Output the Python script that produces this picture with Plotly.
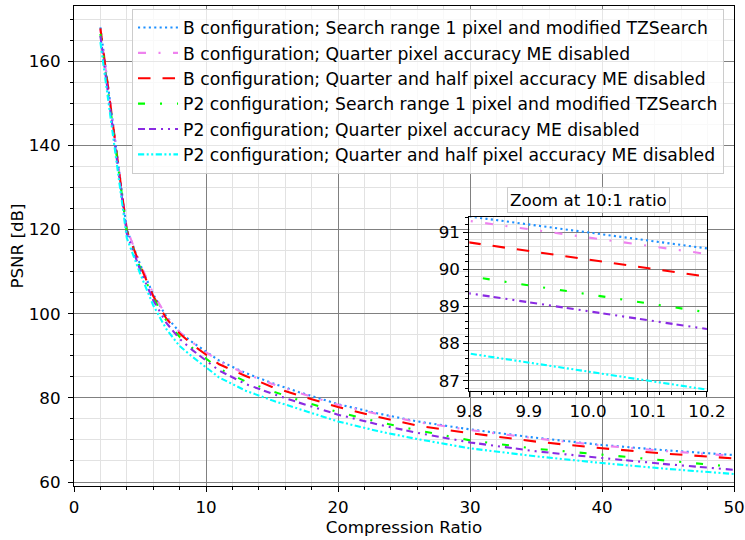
import plotly.graph_objects as go

# Compression ratios (x) and PSNR values [dB]
cr = [2, 4, 5, 6, 7, 8, 9, 11, 13, 15, 17, 20, 23, 26, 30, 35, 40, 45, 50]
b_search = [168.0, 120.0, 111.8, 104.6, 99.3, 95.6, 93.14, 88.84, 85.9, 83.5, 81.4, 78.5, 76.3, 74.4, 72.5, 70.5, 68.8, 67.5, 66.4]
b_quarter = [167.5, 120.2, 112.0, 104.8, 99.4, 95.6, 93.08, 88.63, 85.7, 83.3, 81.2, 78.35, 76.15, 74.25, 72.35, 70.35, 68.65, 67.3, 66.2]
b_qh = [167.8, 119.8, 111.5, 104.2, 98.8, 95.3, 92.56, 87.96, 85.2, 82.6, 80.6, 77.8, 75.5, 73.4, 71.6, 69.6, 68.0, 66.7, 65.6]
p2_search = [166.5, 119.5, 111.0, 103.8, 98.3, 94.5, 91.75, 86.9, 83.9, 81.6, 79.5, 76.6, 74.3, 72.3, 69.9, 67.9, 66.5, 65.0, 63.6]
p2_quarter = [166.0, 119.0, 110.5, 103.2, 97.8, 94.0, 91.27, 86.47, 83.3, 81.0, 78.9, 76.0, 73.7, 71.7, 69.4, 67.3, 65.7, 64.2, 62.9]
p2_qh = [164.5, 118.0, 109.6, 102.0, 96.3, 92.3, 89.67, 84.82, 81.7, 79.4, 77.4, 74.4, 72.1, 70.2, 68.0, 66.1, 64.5, 63.1, 61.9]

names = [
    "B configuration; Search range 1 pixel and modified TZSearch",
    "B configuration; Quarter pixel accuracy ME disabled",
    "B configuration; Quarter and half pixel accuracy ME disabled",
    "P2 configuration; Search range 1 pixel and modified TZSearch",
    "P2 configuration; Quarter pixel accuracy ME disabled",
    "P2 configuration; Quarter and half pixel accuracy ME disabled",
]
series = [b_search, b_quarter, b_qh, p2_search, p2_quarter, p2_qh]
colors = ["#1E90FF", "#EE82EE", "#FF0000", "#00FF00", "#8A2BE2", "#00FFFF"]
dashes = [
    "2.1px,3.3px",
    "8px,12.5px,2px,12.5px",
    "12.5px,12px",
    "7px,15px,2px,15px",
    "7px,4px,7px,5px,2px,5px,2px,5px",
    "6.2px,2.5px,2px,2.5px,2px,2.5px",
]

FONT = "DejaVu Sans"
FS = 16.7
MAJ = "#808080"
MIN = "#e2e2e2"

fig = go.Figure()
for nm, ys, c, d in zip(names, series, colors, dashes):
    fig.add_trace(go.Scatter(x=cr, y=ys, mode="lines", name=nm,
                             line=dict(color=c, width=2.1, dash=d),
                             xaxis="x", yaxis="y"))
for nm, ys, c, d in zip(names, series, colors, dashes):
    fig.add_trace(go.Scatter(x=cr, y=ys, mode="lines", name=nm, showlegend=False,
                             line=dict(color=c, width=2.1, dash=d),
                             xaxis="x2", yaxis="y2"))

axis_common = dict(showline=True, linecolor="black", linewidth=1.2, mirror=True,
                   ticks="outside", ticklen=5, tickwidth=1.1, tickcolor="black",
                   showgrid=True, gridcolor=MAJ, gridwidth=1.3, zeroline=False,
                   automargin=False,
                   tickfont=dict(family=FONT, size=FS, color="black"))

fig.update_layout(
    width=745, height=540,
    margin=dict(l=74, r=11, t=6, b=54, autoexpand=False),
    paper_bgcolor="white", plot_bgcolor="white",
    font=dict(family=FONT, size=FS, color="black"),
    xaxis=dict(range=[0, 50], dtick=10, tick0=0, domain=[0, 1],
               title=dict(text="Compression Ratio", font=dict(family=FONT, size=FS), standoff=3),
               ticklabelstandoff=1,
               minor=dict(dtick=2, tick0=0, ticks="outside", ticklen=3, tickcolor="black",
                          showgrid=True, gridcolor=MIN, gridwidth=1),
               **axis_common),
    yaxis=dict(range=[59.05, 173.1], dtick=20, tick0=0, domain=[0, 1],
               title=dict(text="PSNR [dB]", font=dict(family=FONT, size=FS), standoff=0),
               ticklabelstandoff=4,
               minor=dict(dtick=5, tick0=0, ticks="outside", ticklen=3, tickcolor="black",
                          showgrid=True, gridcolor=MIN, gridwidth=1),
               **axis_common),
    xaxis2=dict(range=[9.8, 10.2], dtick=0.1, tick0=9.8, tickformat=".1f",
                domain=[0.599, 0.959], anchor="y2",
                minor=dict(dtick=0.02, tick0=9.8, ticks="outside", ticklen=3, tickcolor="black",
                           showgrid=True, gridcolor=MIN, gridwidth=1),
                **axis_common),
    yaxis2=dict(range=[86.73, 91.4], dtick=1, tick0=0,
                domain=[0.1985, 0.560], anchor="x2",
                minor=dict(dtick=0.2, tick0=0, ticks="outside", ticklen=3, tickcolor="black",
                           showgrid=True, gridcolor=MIN, gridwidth=1),
                **axis_common),
    legend=dict(x=0.0879, y=0.994, xanchor="left", yanchor="top",
                bgcolor="rgba(255,255,255,0.8)", bordercolor="#cccccc", borderwidth=1,
                font=dict(family=FONT, size=17.2, color="black"), itemwidth=40,
                tracegroupgap=0),
    annotations=[dict(text="Zoom at 10:1 ratio", xref="paper", yref="paper",
                      x=0.78, y=0.596, xanchor="center", yanchor="middle", showarrow=False,
                      font=dict(family=FONT, size=FS, color="black"),
                      bgcolor="rgba(255,255,255,0.8)", bordercolor="#cccccc", borderwidth=1,
                      borderpad=2)],
)

fig.write_html("out.html")
